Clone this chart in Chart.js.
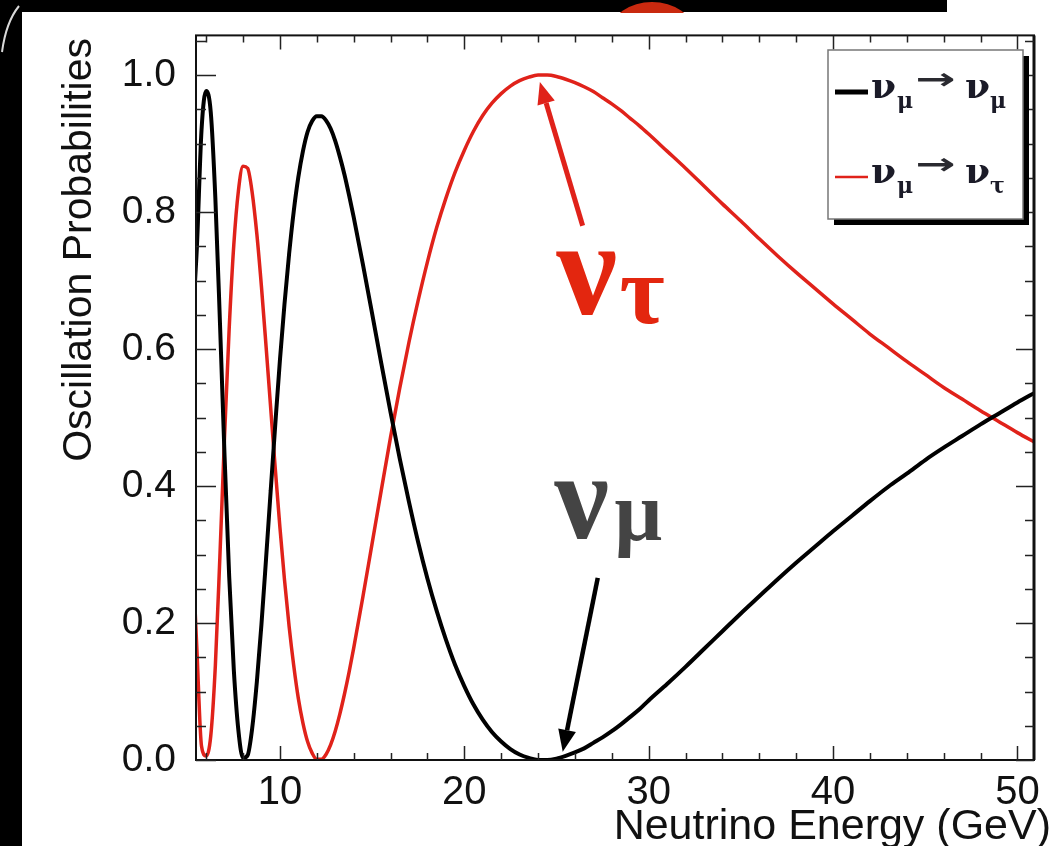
<!DOCTYPE html>
<html>
<head>
<meta charset="utf-8">
<script src="https://cdn.jsdelivr.net/npm/chart.js@4.4.1/dist/chart.umd.min.js"></script>
<style>
  html, body { margin: 0; padding: 0; background: #fff; overflow: hidden; }
  #wrap { position: relative; width: 1061px; height: 846px; }
</style>
</head>
<body>
<div id="wrap"><canvas id="c" width="1061" height="846"></canvas></div>
<script>
// Neutrino energy (GeV) at which both probabilities are sampled
const energyGeV = [
  5.4, 5.5, 5.75, 6.0, 6.25, 6.5, 6.75, 7.0, 7.25, 7.5, 7.75, 8.0, 8.25, 8.5, 8.75,
  9.0, 9.25, 9.5, 9.75, 10.0, 10.25, 10.5, 10.75, 11.0, 11.25, 11.5, 11.75, 12.0,
  12.25, 12.5, 12.75, 13.0, 13.25, 13.5, 13.75, 14.0,
  14.5, 15.0, 15.5, 16.0, 16.5, 17.0, 17.5, 18.0, 18.5, 19.0, 19.5, 20.0, 20.5,
  21.0, 21.5, 22.0, 22.5, 23.0, 23.5, 24.0, 24.5, 25.0, 25.5, 26.0, 26.5, 27.0,
  27.5, 28.0, 28.5, 29.0, 29.5, 30.0,
  31, 32, 33, 34, 35, 36, 37, 38, 39, 40, 41, 42, 43, 44, 45, 46, 47, 48, 49, 50, 51
];

// P(numu -> numu), survival
const probMuMu = [
  0.70, 0.75, 0.92, 0.977, 0.946, 0.820, 0.638, 0.443, 0.268, 0.132, 0.043, 0.003, 0.007, 0.047, 0.114,
  0.198, 0.294, 0.393, 0.490, 0.583, 0.666, 0.739, 0.801, 0.851, 0.889, 0.917, 0.933, 0.940,
  0.940, 0.934, 0.922, 0.904, 0.881, 0.855, 0.825, 0.793,
  0.724, 0.652, 0.579, 0.508, 0.440, 0.377, 0.318, 0.265, 0.218, 0.176, 0.139, 0.108, 0.081,
  0.059, 0.041, 0.027, 0.016, 0.008, 0.003, 0.000, 0.000, 0.002, 0.006, 0.011, 0.017, 0.025,
  0.033, 0.042, 0.052, 0.063, 0.074, 0.087,
  0.111, 0.136, 0.162, 0.188, 0.214, 0.239, 0.264, 0.288, 0.311, 0.334, 0.356, 0.378, 0.399,
  0.418, 0.438, 0.456, 0.473, 0.490, 0.506, 0.522, 0.537
];

// P(numu -> nutau), appearance
const probMuTau = [
  0.22, 0.16, 0.02, 0.006, 0.035, 0.138, 0.300, 0.474, 0.630, 0.752, 0.831, 0.867, 0.864, 0.828, 0.768,
  0.691, 0.604, 0.514, 0.425, 0.340, 0.263, 0.195, 0.138, 0.090, 0.054, 0.027, 0.010, 0.001,
  0.001, 0.008, 0.022, 0.042, 0.067, 0.096, 0.128, 0.163,
  0.238, 0.316, 0.394, 0.471, 0.543, 0.610, 0.671, 0.727, 0.777, 0.820, 0.858, 0.890, 0.918,
  0.941, 0.959, 0.973, 0.984, 0.992, 0.997, 1.000, 1.000, 0.998, 0.994, 0.989, 0.983, 0.976,
  0.967, 0.958, 0.948, 0.937, 0.926, 0.914,
  0.889, 0.864, 0.838, 0.812, 0.787, 0.761, 0.736, 0.712, 0.689, 0.666, 0.644, 0.622, 0.602,
  0.582, 0.563, 0.544, 0.527, 0.510, 0.494, 0.478, 0.463
];

// Axis tick labels
const xTickValues = [10, 20, 30, 40, 50];
const yTickValues = [0.0, 0.2, 0.4, 0.6, 0.8, 1.0];

// Axis titles and legend entries [initial flavour, final flavour]
const xTitle = 'Neutrino Energy (GeV)';
const yTitle = 'Oscillation Probabilities';
const legendEntries = [
  { from: 'μ', to: 'μ' },
  { from: 'μ', to: 'τ' }
];

const BLACK = '#000000';
const RED = '#e0221a';
const SANS = '"Liberation Sans", Arial, Helvetica, sans-serif';
const SERIF = '"Liberation Serif", "Times New Roman", serif';
const GREEK = '"DejaVu Serif", "Liberation Serif", serif';

function toPoints(ys) {
  return energyGeV.map((e, i) => ({ x: e, y: ys[i] }));
}

function drawArrow(ctx, x0, y0, x1, y1, color, width, headLen, headHalf) {
  const ang = Math.atan2(y1 - y0, x1 - x0);
  const bx = x1 - headLen * Math.cos(ang);
  const by = y1 - headLen * Math.sin(ang);
  ctx.save();
  ctx.strokeStyle = color;
  ctx.fillStyle = color;
  ctx.lineWidth = width;
  ctx.lineCap = 'butt';
  ctx.beginPath();
  ctx.moveTo(x0, y0);
  ctx.lineTo(bx, by);
  ctx.stroke();
  ctx.beginPath();
  ctx.moveTo(x1, y1);
  ctx.lineTo(bx + headHalf * Math.sin(ang), by - headHalf * Math.cos(ang));
  ctx.lineTo(bx - headHalf * Math.sin(ang), by + headHalf * Math.cos(ang));
  ctx.closePath();
  ctx.fill();
  ctx.restore();
}

// legend label of the form  ν_a → ν_b
function drawTransition(ctx, x, baseY, from, to) {
  ctx.save();
  ctx.fillStyle = '#1b1b28';
  ctx.textAlign = 'left';
  ctx.textBaseline = 'alphabetic';
  ctx.font = 'bold 36px ' + GREEK;
  ctx.fillText('ν', x, baseY);
  ctx.font = 'bold 22px ' + GREEK;
  ctx.fillText(from, x + 26, baseY + 10);
  // long arrow between the two flavours
  ctx.save();
  ctx.translate(x + 44, baseY - 17);
  ctx.scale(1.6, 1);
  ctx.font = 'bold 30px "DejaVu Sans", sans-serif';
  ctx.textBaseline = 'middle';
  ctx.fillStyle = '#2a2a30';
  ctx.fillText('→', 0, 0);
  ctx.restore();
  ctx.font = 'bold 36px ' + GREEK;
  ctx.fillText('ν', x + 94, baseY);
  ctx.font = 'bold 22px ' + GREEK;
  ctx.fillText(to, x + 119, baseY + 10);
  ctx.restore();
}

const plotDecor = {
  id: 'plotDecor',
  beforeDraw(chart) {
    const ctx = chart.ctx;
    ctx.save();
    ctx.fillStyle = '#ffffff';
    ctx.fillRect(0, 0, chart.width, chart.height);
    // dark border of the projected slide
    ctx.fillStyle = '#000000';
    ctx.fillRect(0, 0, 947, 12);
    ctx.fillRect(0, 0, 22, chart.height);
    // faint bright rim at the upper-left corner
    ctx.strokeStyle = 'rgba(255,255,255,0.85)';
    ctx.lineWidth = 2;
    ctx.beginPath();
    ctx.moveTo(2, 52);
    ctx.quadraticCurveTo(6, 22, 19, 6);
    ctx.stroke();
    // red disc peeking from behind the top bar
    ctx.save();
    ctx.beginPath();
    ctx.rect(600, 0, 120, 13);
    ctx.clip();
    ctx.fillStyle = '#c9290f';
    ctx.beginPath();
    ctx.ellipse(652, 31, 41, 29, 0, 0, Math.PI * 2);
    ctx.fill();
    ctx.restore();
    ctx.restore();
  },
  afterDatasetsDraw(chart) {
    const ctx = chart.ctx;
    const a = chart.chartArea;
    const xs = chart.scales.x;
    const ys = chart.scales.y;
    ctx.save();

    // frame
    ctx.strokeStyle = '#111';
    ctx.lineWidth = 2;
    ctx.strokeRect(a.left, a.top, a.right - a.left, a.bottom - a.top);
    ctx.lineWidth = 3;
    ctx.beginPath();
    ctx.moveTo(a.right, a.top);
    ctx.lineTo(a.right, a.bottom);
    ctx.stroke();

    // inward ticks, x axis (major every 10, minor every 2)
    ctx.lineWidth = 1.5;
    ctx.strokeStyle = '#222';
    for (let v = 6; v <= xs.max; v += 2) {
      const major = v % 10 === 0;
      const len = major ? 14 : 7;
      const px = Math.round(xs.getPixelForValue(v)) + 0.5;
      ctx.beginPath();
      ctx.moveTo(px, a.bottom); ctx.lineTo(px, a.bottom - len);
      ctx.moveTo(px, a.top); ctx.lineTo(px, a.top + len);
      ctx.stroke();
    }
    // inward ticks, y axis (major every 0.2, minor every 0.05)
    for (let k = 0; k * 0.05 <= ys.max + 1e-9; k++) {
      const v = k * 0.05;
      const major = k % 4 === 0;
      const py = Math.round(ys.getPixelForValue(v)) + 0.5;
      ctx.beginPath();
      ctx.moveTo(a.left, py); ctx.lineTo(a.left + (major ? 20 : 10), py);
      ctx.moveTo(a.right, py); ctx.lineTo(a.right - (major ? 18 : 9), py);
      ctx.stroke();
    }

    // axis titles
    ctx.fillStyle = '#111';
    ctx.font = '43px ' + SANS;
    ctx.textAlign = 'right';
    ctx.textBaseline = 'alphabetic';
    ctx.fillText(xTitle, 1051, 839);
    ctx.save();
    ctx.translate(91, 38);
    ctx.rotate(-Math.PI / 2);
    ctx.font = '41px ' + SANS;
    ctx.textAlign = 'right';
    ctx.fillText(yTitle, 0, 0);
    ctx.restore();

    // legend box with drop shadow
    const lx = 828, ly = 50, lw = 195, lh = 169;
    ctx.fillStyle = '#000';
    ctx.fillRect(lx + 6, ly + 6, lw, lh);
    ctx.fillStyle = '#fff';
    ctx.fillRect(lx, ly, lw, lh);
    ctx.strokeStyle = '#777';
    ctx.lineWidth = 1.5;
    ctx.strokeRect(lx, ly, lw, lh);
    chart.data.datasets.forEach((ds, i) => {
      const rowY = 92 + i * 85;
      ctx.strokeStyle = ds.borderColor;
      ctx.lineWidth = i === 0 ? 5 : 2.5;
      ctx.beginPath();
      ctx.moveTo(835, rowY); ctx.lineTo(868, rowY);
      ctx.stroke();
      const ent = legendEntries[i];
      drawTransition(ctx, 871, rowY + 6, ent.from, ent.to);
    });

    // annotations anchored in data coordinates
    const P = (x, y) => [xs.getPixelForValue(x), ys.getPixelForValue(y)];
    let p0 = P(26.42, 0.78), p1 = P(24.1, 0.99);
    drawArrow(ctx, p0[0], p0[1], p1[0], p1[1], RED, 5, 22, 9);
    p0 = P(27.24, 0.266); p1 = P(25.34, 0.012);
    drawArrow(ctx, p0[0], p0[1], p1[0], p1[1], BLACK, 4.5, 22, 9);

    ctx.textAlign = 'left';
    ctx.textBaseline = 'alphabetic';
    let t = P(25.0, 0.651);
    ctx.fillStyle = '#e3260f';
    ctx.font = 'bold 136px ' + SERIF;
    ctx.fillText('ν', t[0], t[1]);
    ctx.font = 'bold 98px ' + SERIF;
    ctx.fillText('τ', t[0] + 63, t[1] + 9);

    t = P(24.9, 0.324);
    ctx.fillStyle = '#444444';
    ctx.font = 'bold 122px ' + SERIF;
    ctx.fillText('ν', t[0], t[1]);
    ctx.font = 'bold 84px ' + SERIF;
    ctx.fillText('μ', t[0] + 60, t[1] + 2);

    ctx.restore();
  }
};

new Chart(document.getElementById('c'), {
  type: 'line',
  data: {
    datasets: [
      {
        label: 'νμ → νμ',
        data: toPoints(probMuMu),
        borderColor: BLACK,
        borderWidth: 4,
        pointRadius: 0,
        cubicInterpolationMode: 'monotone',
        borderJoinStyle: 'round',
        fill: false
      },
      {
        label: 'νμ → ντ',
        data: toPoints(probMuTau),
        borderColor: RED,
        borderWidth: 3.5,
        pointRadius: 0,
        cubicInterpolationMode: 'monotone',
        borderJoinStyle: 'round',
        fill: false
      }
    ]
  },
  options: {
    responsive: false,
    animation: false,
    devicePixelRatio: 1,
    layout: { padding: { left: 0, top: 32, right: 27, bottom: 0 } },
    plugins: { legend: { display: false }, tooltip: { enabled: false } },
    scales: {
      x: {
        type: 'linear',
        min: 5.45,
        max: 50.9,
        grid: { display: false },
        border: { display: false },
        afterBuildTicks: s => { s.ticks = xTickValues.map(v => ({ value: v })); },
        afterFit: s => { s.height = 86; },
        ticks: {
          color: '#111',
          padding: 1,
          maxRotation: 0,
          autoSkip: false,
          font: { family: SANS, size: 40 },
          callback: v => String(v)
        }
      },
      y: {
        type: 'linear',
        min: 0,
        max: 1.058,
        grid: { display: false },
        border: { display: false },
        afterBuildTicks: s => { s.ticks = yTickValues.map(v => ({ value: v })); },
        afterFit: s => { s.width = 196; },
        ticks: {
          color: '#111',
          padding: 12,
          autoSkip: false,
          font: { family: SANS, size: 39 },
          callback: v => Number(v).toFixed(1)
        }
      }
    }
  },
  plugins: [plotDecor]
});
</script>
</body>
</html>
